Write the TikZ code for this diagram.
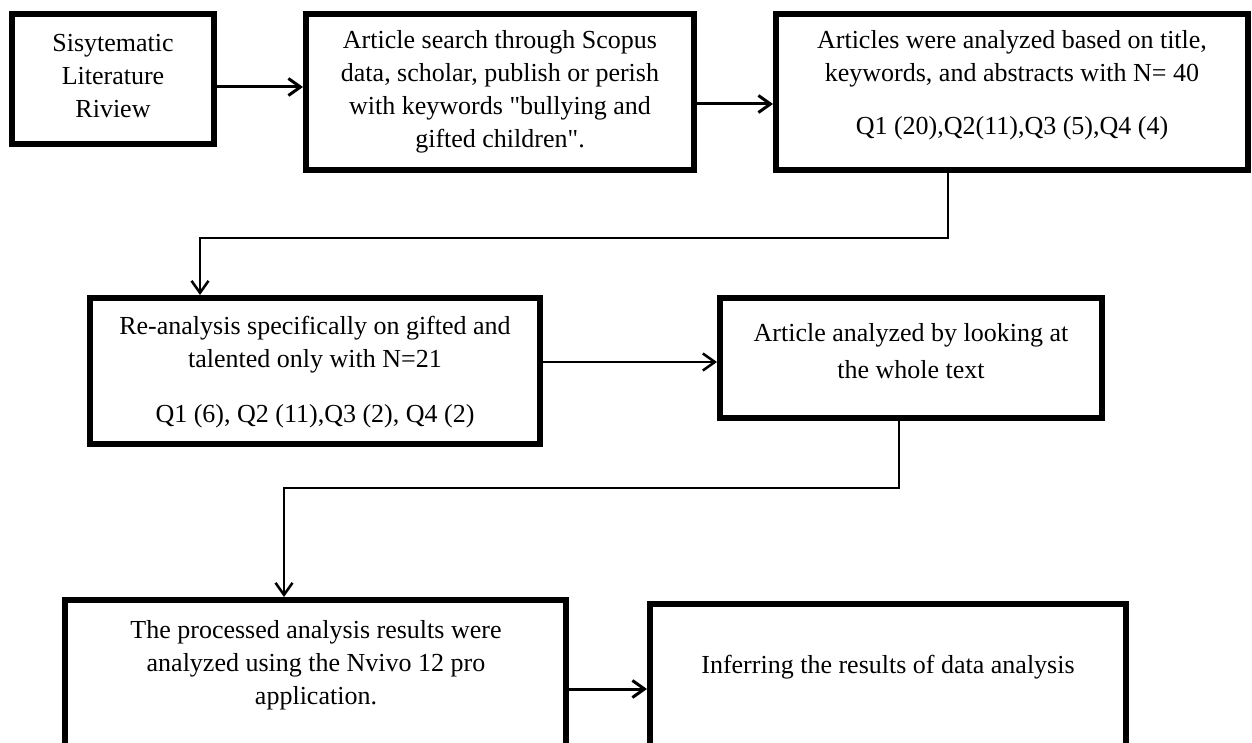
\documentclass[tikz,border=0pt]{standalone}
\usepackage{fontspec}
\setmainfont{Liberation Serif}[Ligatures=TeXOff]
\usetikzlibrary{arrows.meta}
\begin{document}
\begin{tikzpicture}[x=1pt,y=-1pt,
  box/.style={draw, line width=6pt, rectangle, inner sep=0pt},
  txt/.style={align=center, font=\fontsize{26}{33}\selectfont, inner sep=0pt},
  conn/.style={line width=2.5pt, -{Straight Barb[length=12pt,width=17pt]}},
  connb/.style={conn, line width=3pt}]
\clip (0,0) rectangle (1252,743);
% boxes
\node[box, minimum width=202pt, minimum height=130pt] (b1) at (113,79) {};
\node[box, minimum width=388pt, minimum height=156pt] (b2) at (500,92) {};
\node[box, minimum width=472pt, minimum height=156pt] (b3) at (1012,92) {};
\node[box, minimum width=450pt, minimum height=146pt] (b4) at (315,371) {};
\node[box, minimum width=382pt, minimum height=120pt] (b5) at (911,358) {};
\node[box, minimum width=501pt, minimum height=200pt] (b6) at (315.5,700) {};
\node[box, minimum width=476pt, minimum height=196pt] (b7) at (888,702) {};
% texts
\node[txt] (t1) at (113,76) {Sisytematic\\Literature\\Riview};
\node[txt] (t2) at (500,92) {Article search through Scopus\\data, scholar, publish or perish\\with keywords "bullying and\\gifted children".};
\node[txt] (t3) at (1012,85) {Articles were analyzed based on title,\\keywords, and abstracts with N= 40\\[20pt]Q1 (20),Q2(11),Q3 (5),Q4 (4)};
\node[txt] (t4) at (315,372) {Re-analysis specifically on gifted and\\talented only with N=21\\[22pt]Q1 (6), Q2 (11),Q3 (2), Q4 (2)};
\node[txt] (t5) at (911,351) {Article analyzed by looking at\\[4pt]the whole text};
\node[txt] (t6) at (316,665) {The processed analysis results were\\analyzed using the Nvivo 12 pro\\application.};
\node[txt] (t7) at (888,667) {Inferring the results of data analysis};
% elbow points
\coordinate (k1) at (200,238);
\coordinate (k2) at (284,488);
% connectors
\draw[connb] ([yshift=-8pt]b1.east) -- ([yshift=-8pt]b1.east -| b2.west);
\draw[connb] ([yshift=-12pt]b2.east) -- ([yshift=-12pt]b2.east -| b3.west);
\draw[conn] ([xshift=-64pt]b3.south) |- (k1) -- (k1 |- b4.north);
\draw[conn] ([yshift=9pt]b4.east) -- ([yshift=9pt]b4.east -| b5.west);
\draw[conn] ([xshift=-12pt]b5.south) |- (k2) -- (k2 |- b6.north);
\draw[connb] ([yshift=11pt]b6.east) -- ([yshift=11pt]b6.east -| b7.west);
\end{tikzpicture}
\end{document}
